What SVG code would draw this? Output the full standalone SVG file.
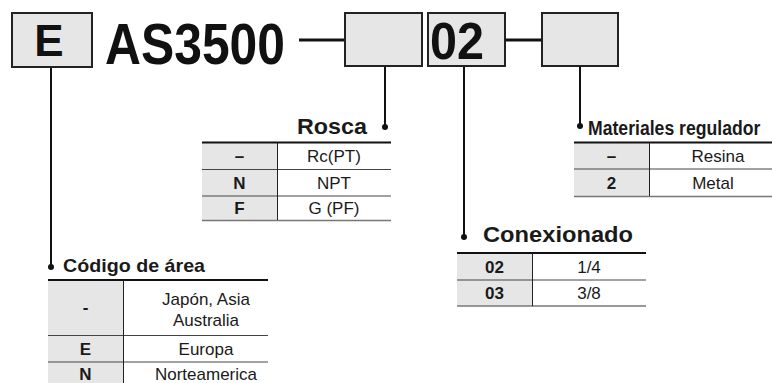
<svg xmlns="http://www.w3.org/2000/svg" width="772" height="383" viewBox="0 0 772 383">
<style>
.box{fill:#e6e6e6;stroke:#222;stroke-width:2}
.big{font-family:"Liberation Sans",Arial,sans-serif;font-weight:bold;fill:#111}
.ttl{font-family:"Liberation Sans",Arial,sans-serif;font-weight:bold;fill:#1a1a1a}
.cell{font-family:"Liberation Sans",Arial,sans-serif;font-size:17px;fill:#1a1a1a;text-anchor:middle}
.key{font-weight:bold}
.gray{fill:#e6e6e6}
.top{stroke:#111;stroke-width:2}
.row{stroke:#444;stroke-width:1}
.bot{stroke:#777;stroke-width:1.6}
.div{stroke:#222;stroke-width:1}
.wire{stroke:#111;stroke-width:2;fill:none}
.dash{stroke:#111;stroke-width:3}
.dot{fill:#111}
</style>
<g id="connectors">
  <line class="dash" x1="299" y1="40" x2="345" y2="40"/>
  <line class="dash" x1="506" y1="40" x2="542" y2="40"/>
  <line class="wire" x1="51" y1="67" x2="51" y2="267"/>
  <circle class="dot" cx="51" cy="267" r="3"/>
  <line class="wire" x1="385" y1="67" x2="385" y2="127"/>
  <circle class="dot" cx="385" cy="127" r="3"/>
  <line class="wire" x1="464" y1="67" x2="464" y2="237"/>
  <circle class="dot" cx="464" cy="237" r="3"/>
  <line class="wire" x1="580" y1="67" x2="580" y2="126"/>
  <circle class="dot" cx="580" cy="126" r="3"/>
</g>
<g id="box-e">
  <rect class="box" x="12" y="13" width="80" height="54"/>
  <text class="big" x="49" y="56" font-size="44" text-anchor="middle">E</text>
</g>
<g id="model">
  <text class="big" x="105" y="64" font-size="58" textLength="180" lengthAdjust="spacingAndGlyphs">AS3500</text>
</g>
<g id="box-thread">
  <rect class="box" x="345" y="13" width="77" height="53"/>
</g>
<g id="box-port">
  <rect class="box" x="428" y="13" width="77" height="53"/>
  <text class="big" x="430" y="59" font-size="52" textLength="54" lengthAdjust="spacingAndGlyphs">02</text>
</g>
<g id="box-material">
  <rect class="box" x="542" y="13" width="76" height="53"/>
</g>
<g id="table-rosca">
  <text class="ttl" x="367" y="134" font-size="22" text-anchor="end" textLength="70" lengthAdjust="spacingAndGlyphs">Rosca</text>
  <rect class="gray" x="202" y="143" width="75" height="77"/>
  <line class="top" x1="202" y1="142.5" x2="391" y2="142.5"/>
  <line class="row" x1="202" y1="169.5" x2="391" y2="169.5"/>
  <line class="row" x1="202" y1="196" x2="391" y2="196"/>
  <line class="bot" x1="202" y1="220.5" x2="391" y2="220.5"/>
  <line class="div" x1="277.5" y1="143" x2="277.5" y2="220"/>
  <text class="cell key" x="239.5" y="162">–</text>
  <text class="cell key" x="239.5" y="189">N</text>
  <text class="cell key" x="239.5" y="214">F</text>
  <text class="cell" x="334" y="162">Rc(PT)</text>
  <text class="cell" x="334" y="189">NPT</text>
  <text class="cell" x="334" y="214">G (PF)</text>
</g>
<g id="table-materiales">
  <text class="ttl" font-size="21" transform="translate(588,135) scale(0.84,1)">Materiales regulador</text>
  <rect class="gray" x="574" y="143" width="75" height="53"/>
  <line class="top" x1="574" y1="142.5" x2="772" y2="142.5"/>
  <line class="row" x1="574" y1="169" x2="772" y2="169"/>
  <line class="bot" x1="574" y1="196.5" x2="772" y2="196.5"/>
  <line class="div" x1="649.5" y1="143" x2="649.5" y2="196"/>
  <text class="cell key" x="611.5" y="162">–</text>
  <text class="cell key" x="611.5" y="189">2</text>
  <text class="cell" x="718" y="162">Resina</text>
  <text class="cell" x="713" y="189">Metal</text>
</g>
<g id="table-conexionado">
  <text class="ttl" x="483" y="242" font-size="22" textLength="150" lengthAdjust="spacingAndGlyphs">Conexionado</text>
  <rect class="gray" x="457" y="253" width="75" height="53"/>
  <line class="top" x1="457" y1="253" x2="646" y2="253"/>
  <line class="row" x1="457" y1="280" x2="646" y2="280"/>
  <line class="bot" x1="457" y1="306" x2="646" y2="306"/>
  <line class="div" x1="532.5" y1="253" x2="532.5" y2="306"/>
  <text class="cell key" x="494.5" y="273">02</text>
  <text class="cell key" x="494.5" y="299">03</text>
  <text class="cell" x="589" y="273">1/4</text>
  <text class="cell" x="589" y="299">3/8</text>
</g>
<g id="table-codigo">
  <text class="ttl" x="63" y="272" font-size="19" textLength="142" lengthAdjust="spacingAndGlyphs">Código de área</text>
  <rect class="gray" x="48" y="280" width="75" height="110"/>
  <line class="top" x1="48" y1="280" x2="268" y2="280"/>
  <line class="row" x1="48" y1="335.5" x2="268" y2="335.5"/>
  <line class="row" x1="48" y1="362" x2="268" y2="362"/>
  <line class="div" x1="123.5" y1="280" x2="123.5" y2="383"/>
  <text class="cell key" x="85.5" y="313">-</text>
  <text class="cell" x="206" y="305">Japón, Asia</text>
  <text class="cell" x="206" y="326">Australia</text>
  <text class="cell key" x="85.5" y="355">E</text>
  <text class="cell" x="206" y="355">Europa</text>
  <text class="cell key" x="85.5" y="380">N</text>
  <text class="cell" x="206" y="380">Norteamerica</text>
</g>
</svg>
